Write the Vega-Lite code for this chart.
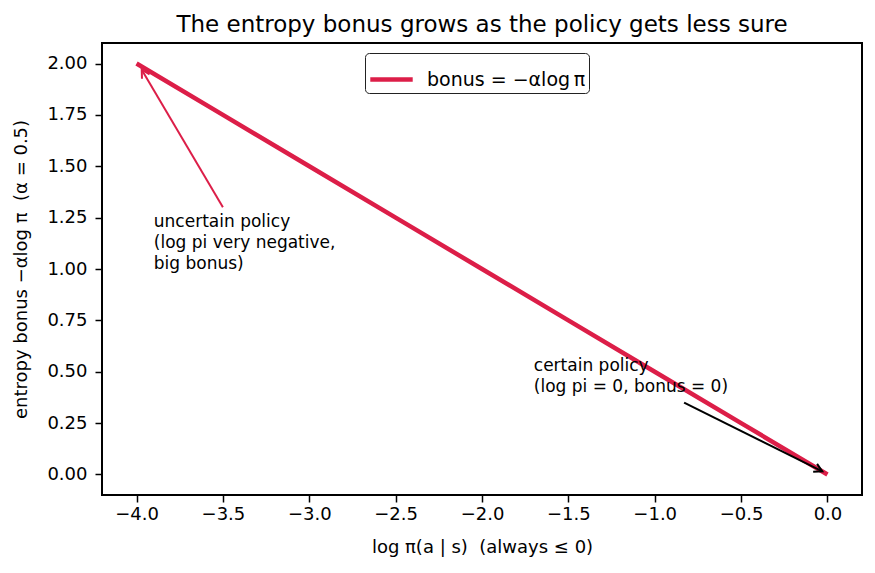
{
  "$schema": "https://vega.github.io/schema/vega-lite/v6.json",
  "width": 760,
  "height": 452,
  "autosize": {"type": "none"},
  "padding": {"left": 102, "top": 43, "right": 13, "bottom": 78},
  "background": "white",
  "title": {
    "text": "The entropy bonus grows as the policy gets less sure",
    "font": "DejaVu Sans",
    "fontSize": 23,
    "fontWeight": "normal",
    "color": "black",
    "anchor": "middle",
    "offset": 6
  },
  "config": {
    "font": "DejaVu Sans",
    "view": {"stroke": "black", "strokeWidth": 2},
    "axis": {
      "domain": false,
      "grid": false,
      "ticks": true,
      "tickColor": "black",
      "tickSize": 7,
      "tickWidth": 1.5,
      "labelFont": "DejaVu Sans",
      "labelFontSize": 18,
      "labelColor": "black",
      "titleFont": "DejaVu Sans",
      "titleFontSize": 18,
      "titleFontWeight": "normal",
      "titleColor": "black"
    }
  },
  "datasets": {
    "curve": [
      {"logpi": -4.0, "bonus": 2.0},
      {"logpi": -3.5, "bonus": 1.75},
      {"logpi": -3.0, "bonus": 1.5},
      {"logpi": -2.5, "bonus": 1.25},
      {"logpi": -2.0, "bonus": 1.0},
      {"logpi": -1.5, "bonus": 0.75},
      {"logpi": -1.0, "bonus": 0.5},
      {"logpi": -0.5, "bonus": 0.25},
      {"logpi": 0.0, "bonus": 0.0}
    ],
    "arrows": [
      {"name": "uncertain", "x": -3.5, "y": 1.3, "x2": -3.97, "y2": 1.97},
      {"name": "certain", "x": -0.83, "y": 0.35, "x2": -0.03, "y2": 0.015}
    ],
    "notes": [
      {"name": "uncertain", "x": -3.9, "y": 1.0, "text": "uncertain policy\n(log pi very negative,\nbig bonus)"},
      {"name": "certain", "x": -1.7, "y": 0.4, "text": "certain policy\n(log pi = 0, bonus = 0)"}
    ]
  },
  "layer": [
    {
      "mark": {"type": "rule", "color": "black", "strokeWidth": 2},
      "encoding": {"y": {"datum": 0, "type": "quantitative"}}
    },
    {
      "mark": {"type": "rule", "color": "black", "strokeWidth": 1.5, "strokeDash": [1.5, 2.5]},
      "encoding": {"x": {"datum": 0, "type": "quantitative"}}
    },
    {
      "data": {"name": "curve"},
      "mark": {"type": "line", "strokeWidth": 4.5, "strokeCap": "butt"},
      "encoding": {
        "x": {
          "field": "logpi",
          "type": "quantitative",
          "scale": {"domain": [-4.2, 0.2], "nice": false, "zero": false},
          "axis": {
            "title": "log π(a | s)\u00a0\u00a0(always ≤ 0)",
            "values": [-4, -3.5, -3, -2.5, -2, -1.5, -1, -0.5, 0],
            "format": ".1f",
            "labelPadding": 3,
            "titlePadding": 15
          }
        },
        "y": {
          "field": "bonus",
          "type": "quantitative",
          "scale": {"domain": [-0.1, 2.1], "nice": false, "zero": false},
          "axis": {
            "title": "entropy bonus −αlog π\u00a0\u00a0(α = 0.5)",
            "values": [0, 0.25, 0.5, 0.75, 1, 1.25, 1.5, 1.75, 2],
            "format": ".2f",
            "labelPadding": 8,
            "titlePadding": 16
          }
        },
        "color": {
          "datum": "bonus = −αlog\u2009π",
          "type": "nominal",
          "scale": {"range": ["#DC1E48"]},
          "legend": {
            "title": null,
            "orient": "none",
            "legendX": 263,
            "legendY": 10,
            "symbolType": "stroke",
            "symbolStrokeWidth": 4.5,
            "symbolSize": 1800,
            "labelFontSize": 19,
            "labelFont": "DejaVu Sans",
            "labelColor": "black",
            "labelOffset": 12,
            "padding": 3,
            "strokeColor": "#222",
            "fillColor": "white",
            "cornerRadius": 4
          }
        }
      }
    },
    {
      "data": {"name": "arrows"},
      "transform": [{"filter": "datum.name === 'uncertain'"}],
      "mark": {"type": "rule", "color": "#DC1E48", "strokeWidth": 2},
      "encoding": {
        "x": {"field": "x", "type": "quantitative"},
        "y": {"field": "y", "type": "quantitative"},
        "x2": {"field": "x2"},
        "y2": {"field": "y2"}
      }
    },
    {
      "data": {"name": "arrows"},
      "transform": [{"filter": "datum.name === 'uncertain'"}],
      "mark": {"type": "point", "shape": "M-0.55,1L0,0L0.55,1", "size": 256, "filled": false, "stroke": "#DC1E48", "strokeWidth": 2, "opacity": 1, "angle": 329.5},
      "encoding": {
        "x": {"field": "x2", "type": "quantitative"},
        "y": {"field": "y2", "type": "quantitative"}
      }
    },
    {
      "data": {"name": "arrows"},
      "transform": [{"filter": "datum.name === 'certain'"}],
      "mark": {"type": "rule", "color": "black", "strokeWidth": 2},
      "encoding": {
        "x": {"field": "x", "type": "quantitative"},
        "y": {"field": "y", "type": "quantitative"},
        "x2": {"field": "x2"},
        "y2": {"field": "y2"}
      }
    },
    {
      "data": {"name": "arrows"},
      "transform": [{"filter": "datum.name === 'certain'"}],
      "mark": {"type": "point", "shape": "M-0.55,1L0,0L0.55,1", "size": 256, "filled": false, "stroke": "black", "strokeWidth": 2, "opacity": 1, "angle": 116.5},
      "encoding": {
        "x": {"field": "x2", "type": "quantitative"},
        "y": {"field": "y2", "type": "quantitative"}
      }
    },
    {
      "data": {"name": "notes"},
      "transform": [{"filter": "datum.name === 'uncertain'"}],
      "mark": {"type": "text", "align": "left", "baseline": "alphabetic", "lineBreak": "\n", "fontSize": 17, "lineHeight": 21, "color": "black", "dy": -42},
      "encoding": {
        "x": {"field": "x", "type": "quantitative"},
        "y": {"field": "y", "type": "quantitative"},
        "text": {"field": "text"}
      }
    },
    {
      "data": {"name": "notes"},
      "transform": [{"filter": "datum.name === 'certain'"}],
      "mark": {"type": "text", "align": "left", "baseline": "alphabetic", "lineBreak": "\n", "fontSize": 17, "lineHeight": 21, "color": "black", "dy": -21},
      "encoding": {
        "x": {"field": "x", "type": "quantitative"},
        "y": {"field": "y", "type": "quantitative"},
        "text": {"field": "text"}
      }
    }
  ]
}
